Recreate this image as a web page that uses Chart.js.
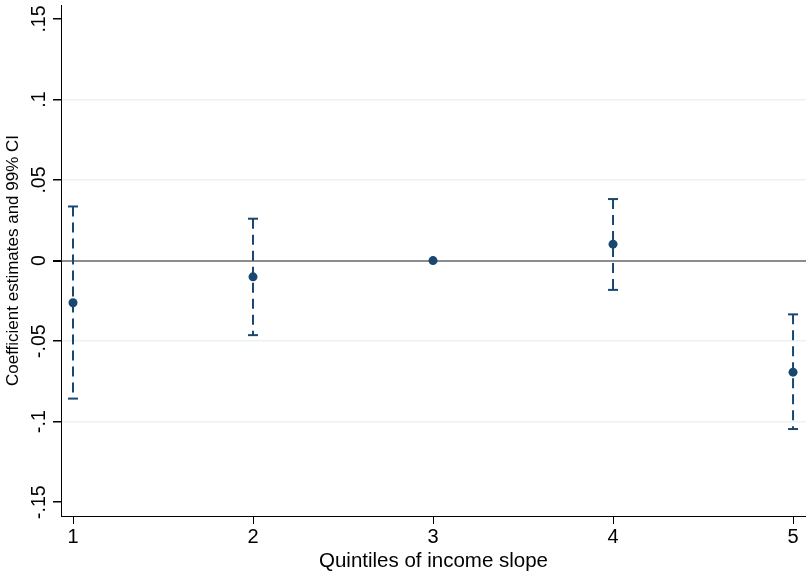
<!DOCTYPE html>
<html>
<head>
<meta charset="utf-8">
<script src="https://cdn.jsdelivr.net/npm/chart.js@4.4.1/dist/chart.umd.min.js"></script>
<style>
  html, body { margin: 0; padding: 0; background: #fff; }
  #wrap { width: 806px; height: 575px; }
</style>
</head>
<body>
<div id="wrap"><canvas id="coefChart" width="806" height="575"></canvas></div>
<script>
// values
const quintiles = [1, 2, 3, 4, 5]
const estimates = [-0.0262, -0.0101, 0, 0.0102, -0.0693]
const ciLower = [-0.0857, -0.0463, null, -0.0182, -0.1046]
const ciUpper = [0.0336, 0.026, null, 0.0382, -0.0334]
const yTicks = [-0.15, -0.1, -0.05, 0, 0.05, 0.1, 0.15]
const yTickLabels = ['-.15', '-.1', '-.05', '0', '.05', '.1', '.15']

const navy = '#1a476f'
Chart.defaults.font.family = "'Liberation Sans', Arial, sans-serif"
Chart.defaults.color = '#000'

const datasets = [
	{
		label: 'estimate',
		data: quintiles.map((q, i) => ({ x: q, y: estimates[i] })),
		backgroundColor: navy,
		borderColor: navy,
		pointRadius: 4.5,
		pointBorderWidth: 0,
		showLine: false,
	},
]

quintiles.forEach((q, i) => {
	if (ciLower[i] === null) return
	datasets.push({
		label: 'ci' + q,
		data: [{ x: q, y: ciUpper[i] }, { x: q, y: ciLower[i] }],
		showLine: true,
		borderColor: navy,
		borderWidth: 2,
		borderDash: [10, 6],
		pointStyle: 'line',
		pointRadius: 5,
		pointBorderWidth: 2,
		pointBorderColor: navy,
	})
})

// stata style y labels, turned on their side
const sideLabels = {
	id: 'sideLabels',
	afterDraw(chart) {
		const ctx = chart.ctx
		const y = chart.scales.y
		ctx.save()
		ctx.fillStyle = '#000'
		ctx.font = "19.5px 'Liberation Sans', Arial, sans-serif"
		ctx.textAlign = 'center'
		ctx.textBaseline = 'alphabetic'
		yTicks.forEach((v, i) => {
			ctx.save()
			ctx.translate(45, y.getPixelForValue(v))
			ctx.rotate(-Math.PI / 2)
			ctx.fillText(yTickLabels[i], 0, 0)
			ctx.restore()
		})
		ctx.restore()
	},
}

new Chart(document.getElementById('coefChart'), {
	type: 'scatter',
	data: { datasets },
	plugins: [sideLabels],
	options: {
		responsive: false,
		animation: false,
		layout: { autoPadding: false, padding: { top: 5, right: 0, left: 0, bottom: 0 } },
		plugins: {
			legend: { display: false },
			tooltip: { enabled: false },
		},
		scales: {
			x: {
				type: 'linear',
				min: 0.9333,
				max: 5.072,
				afterBuildTicks: (s) => { s.ticks = quintiles.map((v) => ({ value: v })) },
				afterFit: (s) => {
					s.height = 59
					s.paddingLeft = 0
					s.paddingRight = 0
				},
				ticks: { font: { size: 20 }, padding: 1, callback: (v) => String(v) },
				grid: { drawOnChartArea: false, tickLength: 8, tickColor: '#000', lineWidth: 1 },
				border: { color: '#000', width: 1 },
				title: {
					display: true,
					text: 'Quintiles of income slope',
					font: { size: 20.5 },
					padding: { top: 0, bottom: 1 },
				},
			},
			y: {
				min: -0.1586,
				max: 0.1587,
				afterBuildTicks: (s) => { s.ticks = yTicks.map((v) => ({ value: v })) },
				afterFit: (s) => { s.width = 61 },
				ticks: { display: false },
				grid: {
					tickLength: 8,
					tickColor: '#000',
					color: (c) => {
						const v = c.tick ? c.tick.value : 1
						if (Math.abs(v) < 1e-9) return '#8c8c8c'
						if (Math.abs(v) > 0.149) return 'rgba(0,0,0,0)'
						return '#eaf2f3'
					},
					lineWidth: (c) => (c.tick && Math.abs(c.tick.value) < 1e-9 ? 2 : 1.5),
				},
				border: { color: '#000', width: 1 },
				title: {
					display: true,
					text: 'Coefficient estimates and 99% CI',
					font: { size: 17 },
					padding: { top: 3, bottom: 0 },
				},
			},
		},
	},
})
</script>
</body>
</html>
